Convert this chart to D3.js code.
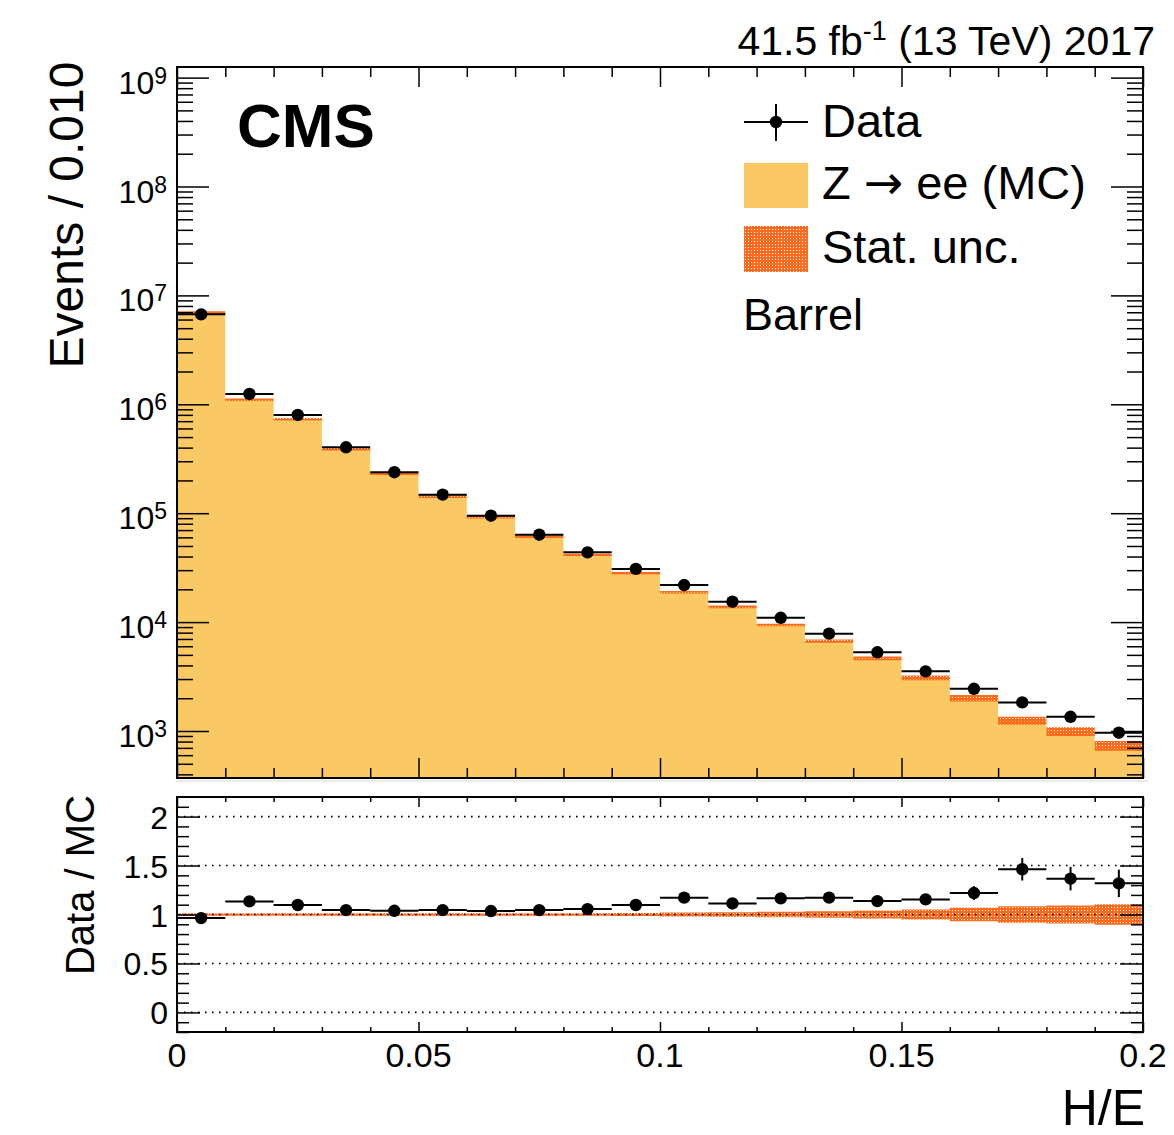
<!DOCTYPE html>
<html><head><meta charset="utf-8">
<script src="https://cdn.jsdelivr.net/npm/d3@7"></script>
<style>
body{margin:0;background:#fff}
text{font-family:"Liberation Sans",Arial,Helvetica,sans-serif;fill:#000}
</style>
</head><body>
<svg id="c" width="1174" height="1135"></svg>
<script>
// ---------------- data ----------------
const binLow = [0.00,0.01,0.02,0.03,0.04,0.05,0.06,0.07,0.08,0.09,0.10,0.11,0.12,0.13,0.14,0.15,0.16,0.17,0.18,0.19];
const binWidth = 0.01;
const dataCounts = [6.70e6,1.245e6,7.98e5,4.03e5,2.38e5,1.48e5,9.48e4,6.35e4,4.37e4,3.08e4,2.19e4,1.54e4,1.096e4,7.83e3,5.28e3,3.53e3,2.44e3,1.83e3,1.35e3,964];
const mcCounts   = [6.96e6,1.10e6,7.28e5,3.86e5,2.30e5,1.42e5,9.20e4,6.10e4,4.15e4,2.81e4,1.88e4,1.38e4,9.40e3,6.70e3,4.65e3,3.07e3,2.00e3,1.24e3,985,730];
const mcRelUnc   = [0.001,0.002,0.003,0.004,0.005,0.006,0.008,0.010,0.012,0.015,0.020,0.023,0.027,0.034,0.040,0.050,0.068,0.085,0.092,0.105];
const ratioVals  = [0.963,1.134,1.097,1.045,1.038,1.045,1.035,1.045,1.055,1.097,1.172,1.113,1.165,1.172,1.137,1.154,1.219,1.462,1.366,1.318];
const ratioErr   = [0.001,0.002,0.003,0.004,0.005,0.006,0.007,0.009,0.010,0.012,0.015,0.018,0.022,0.026,0.030,0.040,0.070,0.115,0.120,0.140];
const xMajorTicks = [0,0.05,0.1,0.15,0.2];
const xTickLabels = ["0","0.05","0.1","0.15","0.2"];
const yDecades = [3,4,5,6,7,8,9];
const ratioMajorTicks = [0,0.5,1,1.5,2];
const ratioTickLabels = ["0","0.5","1","1.5","2"];

// ---------------- layout ----------------
const X0=177, X1=1143, T0=67, T1=778, B0=797, B1=1032;
const YELLOW="#fbc964", ORANGE="#ff6a1c";
const R=6.2;
const svg = d3.select("#c");
const x  = d3.scaleLinear().domain([0,0.2]).range([X0,X1]);
const y  = d3.scaleLog().domain([370.2,1.2513e9]).range([T1,T0]);
const yr = d3.scaleLinear().domain([-0.2,2.2]).range([B1,B0]);

// pattern for stat. unc.
const defs = svg.append("defs");
const pat = defs.append("pattern").attr("id","hatch").attr("patternUnits","userSpaceOnUse")
  .attr("width",3).attr("height",3);
pat.append("path").attr("d","M0,0h3v3h-3z M1,1v1h1v-1z").attr("fill",ORANGE).attr("fill-rule","evenodd");
defs.append("clipPath").attr("id","clipTop").append("rect").attr("x",X0).attr("y",T0).attr("width",X1-X0).attr("height",T1-T0);
defs.append("clipPath").attr("id","clipBot").append("rect").attr("x",X0).attr("y",B0).attr("width",X1-X0).attr("height",B1-B0);

// faint pad separator
svg.append("line").attr("x1",X0-1).attr("x2",X1+5).attr("y1",781).attr("y2",781).attr("stroke","#e4e4e4").attr("stroke-width",1.5);

// ---------------- top panel ----------------
const bins = binLow.map((lo,i)=>({lo,hi:lo+binWidth,data:dataCounts[i],mc:mcCounts[i],u:mcRelUnc[i],r:ratioVals[i],re:ratioErr[i]}));
const stepPts = bins.map(b=>[b.lo,b.mc]).concat([[0.2,bins[bins.length-1].mc]]);
const topG = svg.append("g").attr("clip-path","url(#clipTop)");
topG.append("path").attr("d",d3.area().x(d=>x(d[0])).y0(T1).y1(d=>y(d[1])).curve(d3.curveStepAfter)(stepPts)).attr("fill",YELLOW);

// stat band (top)
const bandPts = bins.map(b=>b).concat([Object.assign({},bins[bins.length-1],{lo:0.2})]);
function halfPix(b){ const h=(y(b.mc*(1-b.u))-y(b.mc*(1+b.u)))/2; return Math.max(1.3,h); }
topG.append("path").attr("d",d3.area().x(d=>x(d.lo)).y0(d=>y(d.mc)+halfPix(d)).y1(d=>y(d.mc)-halfPix(d)).curve(d3.curveStepAfter)(bandPts))
  .attr("fill","url(#hatch)");

// data points top
const dg = topG.append("g");
bins.forEach(b=>{
  const yy=y(b.data);
  dg.append("line").attr("x1",x(b.lo)).attr("x2",x(b.hi)).attr("y1",yy).attr("y2",yy).attr("stroke","#000").attr("stroke-width",2);
  const e=b.re*b.mc;
  dg.append("line").attr("x1",x(b.lo+binWidth/2)).attr("x2",x(b.lo+binWidth/2)).attr("y1",y(b.data+e)).attr("y2",y(Math.max(1,b.data-e))).attr("stroke","#000").attr("stroke-width",2);
  dg.append("circle").attr("cx",x(b.lo+binWidth/2)).attr("cy",yy).attr("r",R).attr("fill","#000");
});

// axes helper
function tk(g, axisFn, scale, values, size){
  g.call(axisFn(scale).tickValues(values).tickSize(size).tickFormat(""));
  g.select(".domain").remove();
  g.selectAll("line").attr("stroke","#000").attr("stroke-width",1.5);
}
const xMinor = d3.range(0,21).map(i=>i/100).filter(v=>!xMajorTicks.some(m=>Math.abs(m-v)<1e-9));
tk(svg.append("g").attr("transform",`translate(0,${T0})`), d3.axisTop, x, xMajorTicks, -20);
tk(svg.append("g").attr("transform",`translate(0,${T0})`), d3.axisTop, x, xMinor, -10);
tk(svg.append("g").attr("transform",`translate(0,${T1})`), d3.axisBottom, x, xMajorTicks, -20);
tk(svg.append("g").attr("transform",`translate(0,${T1})`), d3.axisBottom, x, xMinor, -10);
const yMaj = yDecades.map(d=>Math.pow(10,d));
const yMin = [];
for(let d=2; d<=9; d++) for(let m=2;m<=9;m++){ const v=m*Math.pow(10,d); if(v>370.2 && v<1.2513e9) yMin.push(v); }
tk(svg.append("g").attr("transform",`translate(${X0},0)`), d3.axisLeft, y, yMaj, -32);
tk(svg.append("g").attr("transform",`translate(${X0},0)`), d3.axisLeft, y, yMin, -16);
tk(svg.append("g").attr("transform",`translate(${X1},0)`), d3.axisRight, y, yMaj, -32);
tk(svg.append("g").attr("transform",`translate(${X1},0)`), d3.axisRight, y, yMin, -16);
yDecades.forEach(d=>{
  const t = svg.append("text").attr("x",167).attr("y",y(Math.pow(10,d))+16).attr("text-anchor","end").style("font-size","32px");
  t.append("tspan").text("10");
  t.append("tspan").attr("dy",-10).style("font-size","23px").text(String(d));
});
svg.append("rect").attr("x",X0).attr("y",T0).attr("width",X1-X0).attr("height",T1-T0).attr("fill","none").attr("stroke","#000").attr("stroke-width",2);

// ---------------- bottom panel ----------------
const botG = svg.append("g").attr("clip-path","url(#clipBot)");
function rHalf(b){ return Math.max(1.3,(yr(1-b.u)-yr(1+b.u))/2); }
botG.append("path").attr("d",d3.area().x(d=>x(d.lo)).y0(d=>yr(1)+rHalf(d)).y1(d=>yr(1)-rHalf(d)).curve(d3.curveStepAfter)(bandPts)).attr("fill","url(#hatch)");
ratioMajorTicks.forEach(v=>{
  botG.append("line").attr("x1",X0).attr("x2",X1).attr("y1",yr(v)).attr("y2",yr(v)).attr("stroke","#000").attr("stroke-width",1.6).attr("stroke-dasharray","1.6,5.4");
});
bins.forEach(b=>{
  const yy=yr(b.r), xc=x(b.lo+binWidth/2);
  botG.append("line").attr("x1",x(b.lo)).attr("x2",x(b.hi)).attr("y1",yy).attr("y2",yy).attr("stroke","#000").attr("stroke-width",2);
  botG.append("line").attr("x1",xc).attr("x2",xc).attr("y1",yr(b.r+b.re)).attr("y2",yr(b.r-b.re)).attr("stroke","#000").attr("stroke-width",2);
  botG.append("circle").attr("cx",xc).attr("cy",yy).attr("r",R).attr("fill","#000");
});
const rMinor = d3.range(-2,22).map(i=>i/10).filter(v=>!ratioMajorTicks.some(m=>Math.abs(m-v)<1e-9));
tk(svg.append("g").attr("transform",`translate(0,${B0})`), d3.axisTop, x, xMajorTicks, -10);
tk(svg.append("g").attr("transform",`translate(0,${B0})`), d3.axisTop, x, xMinor, -5);
tk(svg.append("g").attr("transform",`translate(0,${B1})`), d3.axisBottom, x, xMajorTicks, -10);
tk(svg.append("g").attr("transform",`translate(0,${B1})`), d3.axisBottom, x, xMinor, -5);
tk(svg.append("g").attr("transform",`translate(${X0},0)`), d3.axisLeft, yr, ratioMajorTicks, -23);
tk(svg.append("g").attr("transform",`translate(${X0},0)`), d3.axisLeft, yr, rMinor, -12);
tk(svg.append("g").attr("transform",`translate(${X1},0)`), d3.axisRight, yr, ratioMajorTicks, -23);
tk(svg.append("g").attr("transform",`translate(${X1},0)`), d3.axisRight, yr, rMinor, -12);
svg.append("rect").attr("x",X0).attr("y",B0).attr("width",X1-X0).attr("height",B1-B0).attr("fill","none").attr("stroke","#000").attr("stroke-width",2);
ratioMajorTicks.forEach((v,i)=>{
  svg.append("text").attr("x",168).attr("y",yr(v)+12).attr("text-anchor","end").style("font-size","32px").text(ratioTickLabels[i]);
});
xMajorTicks.forEach((v,i)=>{
  svg.append("text").attr("x",x(v)).attr("y",1067).attr("text-anchor","middle").style("font-size","34px").text(xTickLabels[i]);
});

// ---------------- titles ----------------
svg.append("text").attr("x",1145).attr("y",1125).attr("text-anchor","end").style("font-size","50px").text("H/E");
svg.append("text").attr("transform","translate(83,215) rotate(-90)").attr("text-anchor","middle").style("font-size","48px").text("Events / 0.010");
svg.append("text").attr("transform","translate(94,885) rotate(-90)").attr("text-anchor","middle").style("font-size","40px").text("Data / MC");
svg.append("text").attr("x",237).attr("y",147).style("font-size","62px").style("font-weight","bold").text("CMS");
const lum = svg.append("text").attr("x",1155).attr("y",55).attr("text-anchor","end").style("font-size","41px");
lum.append("tspan").text("41.5 fb");
lum.append("tspan").attr("dy",-15).style("font-size","27px").text("-1");
lum.append("tspan").attr("dy",15).text(" (13 TeV) 2017");

// ---------------- legend ----------------
const lg = svg.append("g");
lg.append("line").attr("x1",744).attr("x2",808).attr("y1",122).attr("y2",122).attr("stroke","#000").attr("stroke-width",2);
lg.append("line").attr("x1",776).attr("x2",776).attr("y1",104).attr("y2",141).attr("stroke","#000").attr("stroke-width",2);
lg.append("circle").attr("cx",776).attr("cy",122).attr("r",R).attr("fill","#000");
lg.append("text").attr("x",822).attr("y",137).style("font-size","47px").text("Data");
lg.append("rect").attr("x",744).attr("y",163).attr("width",64).attr("height",45).attr("fill",YELLOW);
const zt = lg.append("text").attr("x",822).attr("y",199).style("font-size","47px");
zt.append("tspan").text("Z ");
zt.append("tspan").style("font-family","'DejaVu Sans'").text("\u2192");
zt.append("tspan").text(" ee (MC)");
lg.append("rect").attr("x",744).attr("y",226).attr("width",64).attr("height",46).attr("fill","url(#hatch)");
lg.append("text").attr("x",822).attr("y",263).style("font-size","47px").text("Stat. unc.");
lg.append("text").attr("x",743).attr("y",330).style("font-size","45px").text("Barrel");
</script>
</body></html>
